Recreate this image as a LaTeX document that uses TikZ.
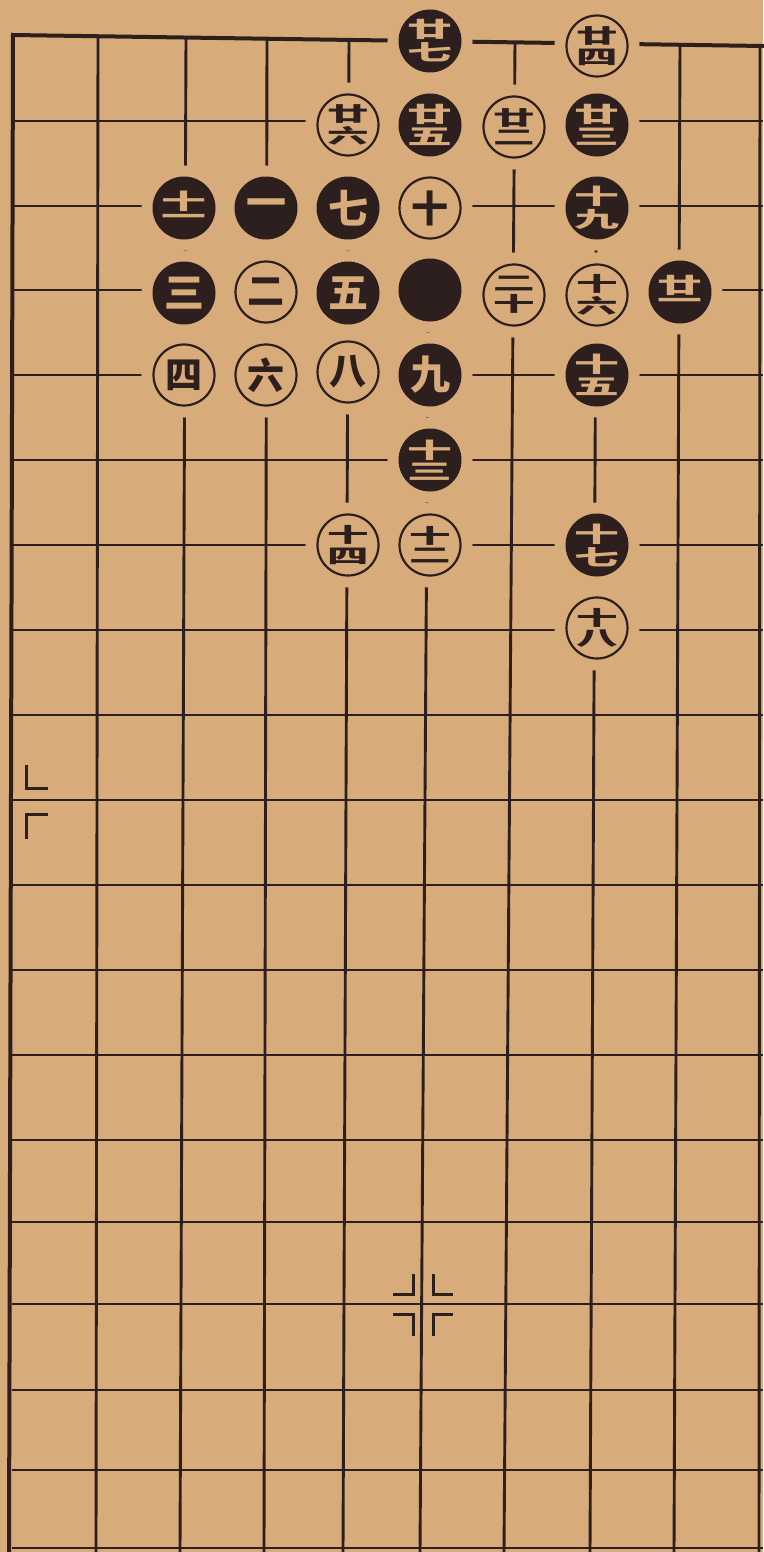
\documentclass[tikz,border=0pt]{standalone}
\usepackage{fontspec}
\usepackage{graphicx}
\newfontfamily\cjk{Noto Sans CJK SC}
\definecolor{paper}{RGB}{216,172,122}
\definecolor{ink}{RGB}{46,31,31}
\newcommand\stk[2]{\vbox{\offinterlineskip\halign{\hfil##\hfil\cr\scalebox{1.12}[0.54]{#1}\cr\noalign{\kern3pt}\scalebox{1.12}[0.54]{#2}\cr}}}
\begin{document}
\begin{tikzpicture}[x=1pt,y=-1pt,
  gridline/.style={draw=ink,line width=2.9pt},
  border/.style={draw=ink,line width=4pt,line cap=rect},
  starmark/.style={draw=ink,line width=3pt},
  bs/.style={circle,inner sep=0pt,minimum size=63pt,fill=ink,text=paper,
    preaction={draw=paper,line width=22pt},
    font=\cjk\bfseries\fontsize{40}{40}\selectfont},
  ws/.style={circle,inner sep=0pt,minimum size=61pt,fill=paper,draw=ink,line width=2.2pt,text=ink,
    preaction={draw=paper,line width=24pt},
    font=\cjk\bfseries\fontsize{37}{37}\selectfont}]
\useasboundingbox[fill=paper] (0,0) rectangle (763,1552);
% horizontal lines
\foreach \y in {121,206,290,375,460,545,630,715,800,885,970,1055,1140,1222,1304,1390,1470,1548}
  \draw[gridline] (12,\y) -- (763,\y);
% vertical lines
\foreach \xt/\xb in {98/96,186/180,267/264,349/343,430/420,515/504,597/590,680/674,760/759}
  \draw[gridline] (\xt,{35+11*(\xt-12)/751}) -- (\xb,1552);
% borders
\draw[border] (13,35) -- (9,1552);
\draw[border] (13,35) -- (763,46);
% star marks
\begin{scope}[shift={(423,1304)}]
  \draw[starmark] (-10,-30) -- (-10,-10) -- (-30,-10);
  \draw[starmark] (10,-30) -- (10,-10) -- (30,-10);
  \draw[starmark] (-30,10) -- (-10,10) -- (-10,32);
  \draw[starmark] (30,10) -- (10,10) -- (10,32);
\end{scope}
\begin{scope}[shift={(12,801)}]
  \draw[starmark] (14,-36) -- (14,-13) -- (36,-13);
  \draw[starmark] (36,13) -- (14,13) -- (14,38);
\end{scope}
% stones
\node[bs] (m27) at (430,41) {\stk{廿}{七}};
\node[ws] (m24) at (597,46) {\stk{廿}{四}};
\node[ws] (m26) at (348,125) {\stk{廿}{六}};
\node[bs] (m25) at (430,125) {\stk{廿}{五}};
\node[ws] (m22) at (514,127) {\stk{廿}{二}};
\node[bs] (m23) at (597,125) {\stk{廿}{三}};
\node[bs] (m11) at (184,208) {\stk{十}{一}};
\node[bs] (m1) at (266,208) {一};
\node[bs] (m7) at (348,208) {七};
\node[ws] (m10) at (430,208) {十};
\node[bs] (m19) at (597,208) {\stk{十}{九}};
\node[bs] (m3) at (184,293) {三};
\node[ws] (m2) at (266,292) {二};
\node[bs] (m5) at (348,293) {五};
\node[bs] (m0) at (430,290) {};
\node[ws] (m20) at (514,295) {\stk{二}{十}};
\node[ws] (m16) at (597,295) {\stk{十}{六}};
\node[bs] (m21) at (680,292) {\stk{廿}{一}};
\node[ws] (m4) at (184,375) {四};
\node[ws] (m6) at (266,375) {六};
\node[ws] (m8) at (348,372) {八};
\node[bs] (m9) at (430,375) {九};
\node[bs] (m15) at (597,375) {\stk{十}{五}};
\node[bs] (m13) at (430,460) {\stk{十}{三}};
\node[ws] (m14) at (348,545) {\stk{十}{四}};
\node[ws] (m12) at (430,545) {\stk{十}{二}};
\node[bs] (m17) at (597,545) {\stk{十}{七}};
\node[ws] (m18) at (597,628) {\stk{十}{八}};
\end{tikzpicture}
\end{document}
